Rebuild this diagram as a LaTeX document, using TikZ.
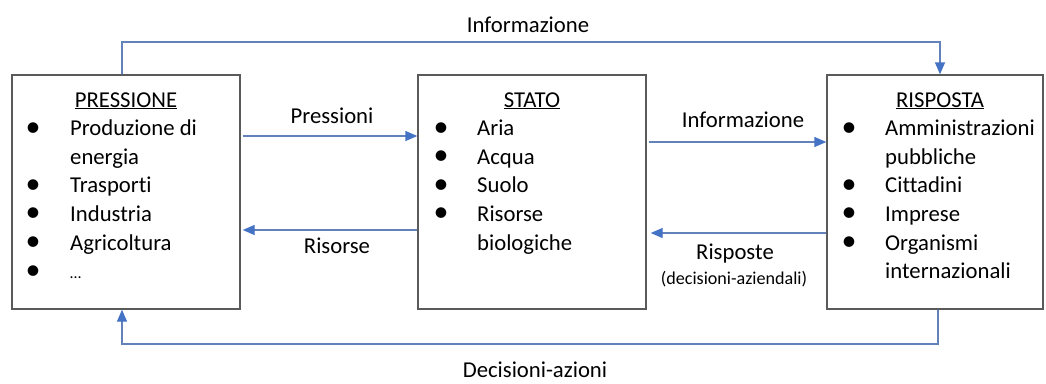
\documentclass[tikz,border=0pt]{standalone}
\usepackage{fontspec}
\setmainfont{Carlito}[Ligatures=NoCommon]
\usetikzlibrary{arrows.meta}
\definecolor{arrowblue}{RGB}{68,114,196}
\definecolor{lineblue}{RGB}{100,130,186}
\definecolor{boxgray}{RGB}{90,90,90}
\tikzset{
  x=1pt, y=-1pt,
  panel/.style={draw=boxgray, line width=1.4pt, minimum width=#1, minimum height=234pt, inner sep=0pt},
  txt/.style={anchor=base west, inner sep=0pt, font=\fontsize{22.7}{28}\selectfont},
  ttl/.style={anchor=base, inner sep=0pt, font=\fontsize{22.7}{28}\selectfont},
  lbl/.style={anchor=base, inner sep=0pt, font=\fontsize{22.7}{28}\selectfont},
  small/.style={anchor=base, inner sep=0pt, font=\fontsize{18.1}{22}\selectfont},
  bul/.style={anchor=base, inner sep=0pt, font=\fontsize{30}{30}\selectfont},
  flow/.style={draw=lineblue, line width=1.4pt, -{Triangle[length=12pt,width=10pt,fill=arrowblue,color=arrowblue]}},
  link/.style={draw=lineblue, line width=1.4pt}
}
\begin{document}
\begin{tikzpicture}
\useasboundingbox (0,0) rectangle (1046,383);
% boxes
\node[panel=228pt] (L) at (126,192) {};
\node[panel=228pt] (M) at (532,192) {};
\node[panel=216pt] (R) at (935,192) {};
% PRESSIONE
\node[ttl] (Lt) at (126,107) {\underline{PRESSIONE}};
\node[bul] (Lb1) at (33,136) {•};
\node[txt] (L1) at (70,135.6) {Produzione di};
\node[txt] (L2) at (70,164.2) {energia};
\node[bul] (Lb3) at (33,193.2) {•};
\node[txt] (L3) at (70,192.8) {Trasporti};
\node[bul] (Lb4) at (33,221.8) {•};
\node[txt] (L4) at (70,221.4) {Industria};
\node[bul] (Lb5) at (33,250.4) {•};
\node[txt] (L5) at (70,250) {Agricoltura};
\node[bul] (Lb6) at (33,279) {•};
\node[txt] (L6) at (70,278.6) {\fontsize{16}{20}\selectfont\dots};
% STATO
\node[ttl] (Mt) at (532,107) {\underline{STATO}};
\node[bul] (Mb1) at (441,136) {•};
\node[txt] (M1) at (477,135.6) {Aria};
\node[bul] (Mb2) at (441,164.6) {•};
\node[txt] (M2) at (477,164.2) {Acqua};
\node[bul] (Mb3) at (441,193.2) {•};
\node[txt] (M3) at (477,192.8) {Suolo};
\node[bul] (Mb4) at (441,221.8) {•};
\node[txt] (M4) at (477,221.4) {Risorse};
\node[txt] (M5) at (477,250) {biologiche};
% RISPOSTA
\node[ttl] (Rt) at (940,107) {\underline{RISPOSTA}};
\node[bul] (Rb1) at (849,136) {•};
\node[txt] (R1) at (885,135.6) {Amministrazioni};
\node[txt] (R2) at (885,164.2) {pubbliche};
\node[bul] (Rb3) at (849,193.2) {•};
\node[txt] (R3) at (885,192.8) {Cittadini};
\node[bul] (Rb4) at (849,221.8) {•};
\node[txt] (R4) at (885,221.4) {Imprese};
\node[bul] (Rb5) at (849,250.4) {•};
\node[txt] (R5) at (885,250) {Organismi};
\node[txt] (R6) at (885,278.6) {internazionali};
% helper coordinates
\coordinate (yP) at (0,136);
\coordinate (yRs) at (0,230);
\coordinate (yI) at (0,142);
\coordinate (yRp) at (0,233);
\coordinate (xL) at (122,0);
\coordinate (xRt) at (940,0);
\coordinate (xRb) at (938,0);
\coordinate (top) at (0,42);
\coordinate (bot) at (0,344);
% horizontal arrows
\draw[flow] ([xshift=2pt]L.east |- yP) -- (M.west |- yP);
\draw[flow] (M.west |- yRs) -- ([xshift=2pt]L.east |- yRs);
\draw[flow] ([xshift=2pt]M.east |- yI) -- (R.west |- yI);
\draw[flow] (R.west |- yRp) -- ([xshift=4pt]M.east |- yRp);
% feedback loops
\draw[flow] (xL |- L.north) -- (xL |- top) -- (xRt |- top) -- (xRt |- R.north);
\draw[flow] (xRb |- R.south) -- (xRb |- bot) -- (xL |- bot) -- (xL |- L.south);
% labels
\node[lbl] (lP) at (332,123) {Pressioni};
\node[lbl] (lR) at (337,253) {Risorse};
\node[lbl] (lI) at (743,127) {Informazione};
\node[lbl] (lRp) at (735,259) {Risposte};
\node[small] (lRd) at (734,284) {(decisioni-aziendali)};
\node[lbl] (lTop) at (528,32) {Informazione};
\node[lbl] (lBot) at (535,377) {Decisioni-azioni};
\end{tikzpicture}
\end{document}
